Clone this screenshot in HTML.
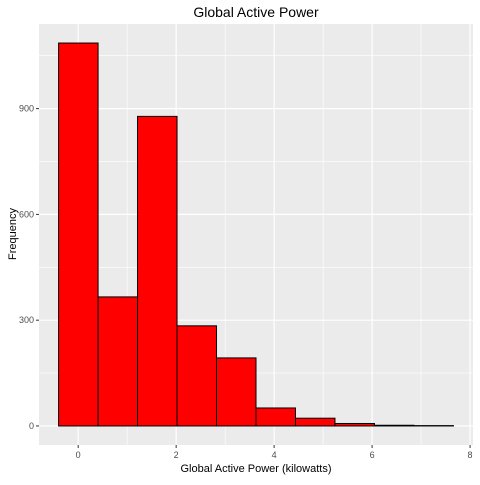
<!DOCTYPE html>
<html><head><meta charset="utf-8"><style>
body{margin:0;background:#fff;}
svg text{font-family:"Liberation Sans",Arial,sans-serif;}
</style></head><body>
<svg id="chart" width="480" height="480" xmlns="http://www.w3.org/2000/svg">
<rect width="480" height="480" fill="#fff"/>
<rect x="39" y="24" width="434" height="421" fill="#ebebeb"/>
<g id="grid"></g>
<g id="bars"></g>
<g id="axes"></g>
<text x="256" y="17" font-size="14" text-anchor="middle" fill="#000">Global Active Power</text>
<text x="256" y="472" font-size="11" text-anchor="middle" fill="#000">Global Active Power (kilowatts)</text>
<text x="16" y="234" font-size="11" text-anchor="middle" fill="#000" transform="rotate(-90 16 234)">Frequency</text>
</svg>
<script>
const binStart = -0.4;
const binWidth = 0.806;
const counts = [1086, 366, 878, 284, 193, 51, 22, 7, 2, 1];
const xTicks = [0, 2, 4, 6, 8];
const yTicks = [0, 300, 600, 900];
const X0=39, X1=473, Y0=445, Y1=24;
const xMin=-0.8, xMax=8.06, yMin=-54, yMax=1140;
const ns="http://www.w3.org/2000/svg";
function sx(v){return X0+(v-xMin)/(xMax-xMin)*(X1-X0);}
function sy(v){return Y0-(v-yMin)/(yMax-yMin)*(Y0-Y1);}
function mk(tag,attrs,parent){const e=document.createElementNS(ns,tag);for(const k in attrs)e.setAttribute(k,attrs[k]);parent.appendChild(e);return e;}
const grid=document.getElementById('grid'),bars=document.getElementById('bars'),axes=document.getElementById('axes');
// minor grid
for(let i=0;i<xTicks.length-1;i++){const v=(xTicks[i]+xTicks[i+1])/2;const l=mk('line',{x1:sx(v),x2:sx(v),y1:Y1,y2:Y0,stroke:'#fff','stroke-width':0.6},grid);

}
for(let i=0;i<yTicks.length;i++){const v=yTicks[i]+(yTicks[1]-yTicks[0])/2;if(sy(v)<Y1)continue;const l=mk('line',{x1:X0,x2:X1,y1:sy(v),y2:sy(v),stroke:'#fff','stroke-width':0.6},grid);

}
xTicks.forEach(v=>{const l=mk('line',{x1:sx(v),x2:sx(v),y1:Y1,y2:Y0,stroke:'#fff','stroke-width':1.2},grid);


const t=mk('line',{x1:sx(v),x2:sx(v),y1:Y0,y2:Y0+3,stroke:'#333','stroke-width':1},axes);


const tx=mk('text',{x:sx(v),y:Y0+13,'font-size':9,'text-anchor':'middle',fill:'#4d4d4d'},axes);tx.textContent=v;

});
yTicks.forEach(v=>{const l=mk('line',{x1:X0,x2:X1,y1:sy(v),y2:sy(v),stroke:'#fff','stroke-width':1.2},grid);


const t=mk('line',{x1:X0-3,x2:X0,y1:sy(v),y2:sy(v),stroke:'#333','stroke-width':1},axes);


const tx=mk('text',{x:X0-5,y:sy(v)+3,'font-size':9,'text-anchor':'end',fill:'#4d4d4d'},axes);tx.textContent=v;

});
counts.forEach((c,i)=>{const a=sx(binStart+i*binWidth),b=sx(binStart+(i+1)*binWidth);
const r=mk('rect',{x:a,y:sy(c),width:b-a,height:sy(0)-sy(c),fill:'#ff0000',stroke:'#000','stroke-width':1},bars);

});
</script>
</body></html>
